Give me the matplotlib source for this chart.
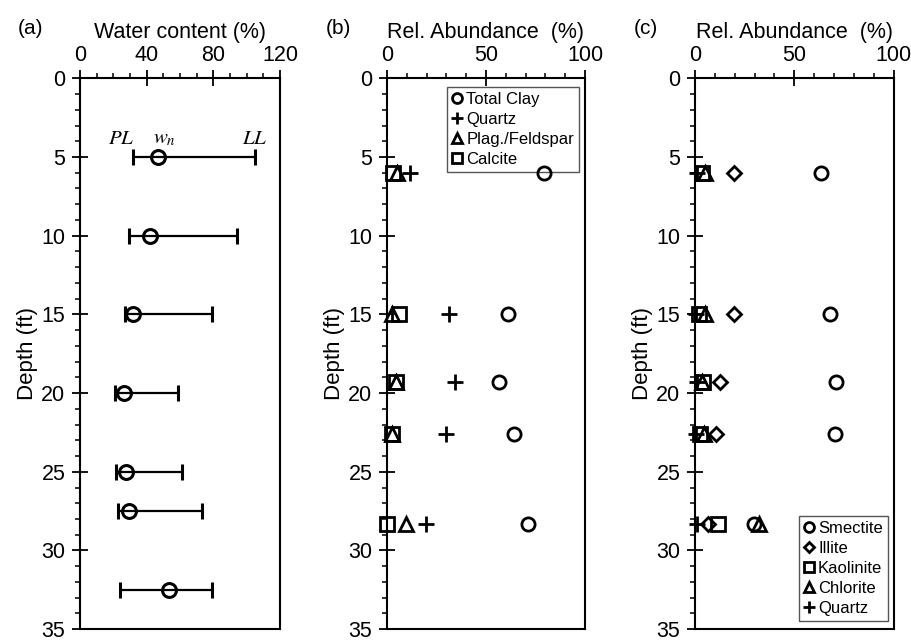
import matplotlib
matplotlib.use("Agg")
import matplotlib.pyplot as plt
from matplotlib.ticker import MultipleLocator

plt.rcParams['font.family'] = ['Liberation Sans', 'DejaVu Sans']
plt.rcParams['mathtext.fontset'] = 'stix'

# ---------------------------------------------------------------
# (a) Atterberg limits and natural water content vs depth
depth_a = [5, 10, 15, 20, 25, 27.5, 32.5]
wn = [47, 42, 32, 26.5, 27.5, 29.5, 53.5]
pl = [32, 29.5, 27, 21, 21.5, 23, 24]
ll = [105, 94.5, 79, 59, 61.5, 73.5, 79]

# (b) bulk mineralogy
depth_b = [6, 15, 19.3, 22.6, 28.3]
total_clay = [79.5, 61, 56.5, 64, 71]
quartz_b = [11.5, 31.5, 34.5, 30, 19.5]
plag = [5, 2.5, 4.5, 2.5, 9.5]
calcite = [3, 6, 4.5, 2.5, 0]

# (c) clay mineralogy
depth_c = [6, 15, 19.3, 22.6, 28.3]
smectite = [63.5, 68, 71, 70.5, 29.5]
illite = [19.5, 19.5, 12.5, 10.5, 6.5]
kaolinite = [3.5, 2, 4, 2.5, 11.5]
chlorite = [5, 5, 3.5, 4.5, 32]
quartz_c = [1, 0.5, 1, 0.5, 1]

fig = plt.figure(figsize=(9.12, 6.42), dpi=100)
bottom, height = 0.02, 0.858
ax_a = fig.add_axes([0.0877, bottom, 0.2193, height])
ax_b = fig.add_axes([0.4243, bottom, 0.2171, height])
ax_c = fig.add_axes([0.762, bottom, 0.218, height])

mk = dict(linestyle='none', color='black', mfc='none', mew=2, zorder=6,
          clip_on=False)


def style_axis(ax, xmax, xmajor, xminor, xlabel, tag):
    ax.set_xlim(0, xmax)
    ax.set_ylim(35, 0)
    ax.xaxis.set_major_locator(MultipleLocator(xmajor))
    ax.xaxis.set_minor_locator(MultipleLocator(xminor))
    ax.yaxis.set_major_locator(MultipleLocator(5))
    ax.yaxis.set_minor_locator(MultipleLocator(1))
    ax.xaxis.tick_top()
    ax.xaxis.set_label_position('top')
    ax.tick_params(axis='both', which='major', direction='inout', length=11,
                   width=1.3, labelsize=15.5, color='black', pad=5)
    ax.tick_params(axis='x', which='major', pad=3.5)
    ax.tick_params(axis='both', which='minor', direction='out', length=3.5,
                   width=1.1)
    ax.tick_params(right=False, bottom=False, which='both')
    for s in ax.spines.values():
        s.set_linewidth(1.5)
    ax.set_xlabel(xlabel, fontsize=15.5, labelpad=5)
    ax.set_ylabel('Depth (ft)', fontsize=16, labelpad=2)
    ax.text(-0.245, 1.09, tag, transform=ax.transAxes, fontsize=15,
            ha='center', va='center')


# (a)
xerr = [[w - p for w, p in zip(wn, pl)], [l - w for l, w in zip(ll, wn)]]
ax_a.errorbar(wn, depth_a, xerr=xerr, fmt='o', color='black', mfc='none',
              ms=10, mew=2.2, elinewidth=1.6, capsize=5.5, capthick=1.6)
ax_a.text(25, 3.8, '$PL$', fontsize=15, ha='center', va='center')
ax_a.text(50.5, 3.8, '$w_n$', fontsize=15, ha='center', va='center')
ax_a.text(105, 3.8, '$LL$', fontsize=15, ha='center', va='center')
style_axis(ax_a, 120, 40, 10, 'Water content (%)', '(a)')

leg_kw = dict(fontsize=12, markerscale=0.75, handlelength=0.6,
              handletextpad=0.25, labelspacing=0.3, borderpad=0.3,
              borderaxespad=0.0, fancybox=False, framealpha=1,
              edgecolor='#555555')

# (b)
ax_b.plot(total_clay, depth_b, marker='o', ms=9.5, label='Total Clay', **mk)
ax_b.plot(quartz_b, depth_b, marker='+', ms=11, label='Quartz', **mk)
ax_b.plot(plag, depth_b, marker='^', ms=9.5, label='Plag./Feldspar', **mk)
ax_b.plot(calcite, depth_b, marker='s', ms=9.5, label='Calcite', **mk)
style_axis(ax_b, 100, 50, 10, 'Rel. Abundance  (%)', '(b)')
leg = ax_b.legend(loc='upper right', bbox_to_anchor=(0.97, 0.985), **leg_kw)
leg.get_frame().set_linewidth(1.0)
leg.set_zorder(4)

# (c)
ax_c.plot(smectite, depth_c, marker='o', ms=9.5, label='Smectite', **mk)
ax_c.plot(illite, depth_c, marker='D', ms=7, label='Illite', **mk)
ax_c.plot(kaolinite, depth_c, marker='s', ms=9.5, label='Kaolinite', **mk)
ax_c.plot(chlorite, depth_c, marker='^', ms=9.5, label='Chlorite', **mk)
ax_c.plot(quartz_c, depth_c, marker='+', ms=11, label='Quartz', **mk)
style_axis(ax_c, 100, 50, 10, 'Rel. Abundance  (%)', '(c)')
leg = ax_c.legend(loc='lower right', bbox_to_anchor=(0.97, 0.015), **leg_kw)
leg.get_frame().set_linewidth(1.0)
leg.set_zorder(4)

fig.savefig('out.png', dpi=100)
